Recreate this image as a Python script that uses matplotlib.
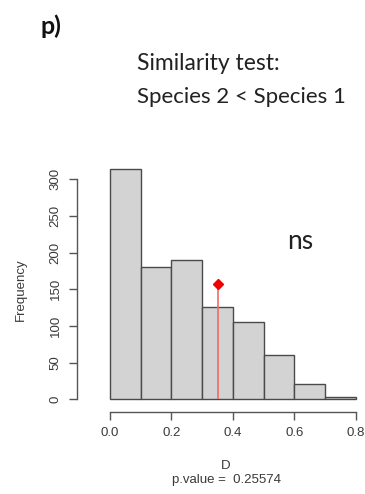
import matplotlib
matplotlib.use("Agg")
import matplotlib.pyplot as plt
import numpy as np

# Null distribution of the similarity statistic D (histogram counts per bin)
bin_edges = [0.0, 0.1, 0.2, 0.3, 0.4, 0.5, 0.6, 0.7, 0.8]
counts = [314, 180, 190, 126, 106, 60, 21, 3]

# Observed statistic and the height of its marker
observed_d = 0.352
marker_height = 157
p_value = 0.25574

x_ticks = [0.0, 0.2, 0.4, 0.6, 0.8]
y_ticks = [0, 50, 100, 150, 200, 250, 300]

axis_font = "Liberation Sans"
note_font = "Lato"
txt_grey = "#3a3a3a"

fig = plt.figure(figsize=(3.65, 4.94), dpi=100)
ax = fig.add_axes([0.211, 0.1666, 0.789, 0.515])

edges = np.array(bin_edges)
ax.bar(edges[:-1], counts, width=np.diff(edges), align="edge",
       color="#d3d3d3", edgecolor="#4a4a4a", linewidth=1.0, zorder=2)

ax.vlines(observed_d, 0, marker_height, color="#f26b6b", linewidth=1.2, zorder=3)
ax.plot([observed_d], [marker_height], marker="D", markersize=5.5,
        color="#f20000", linestyle="none", zorder=4)

ax.set_xlim(-0.1073, 0.83)
ax.set_ylim(-16.9, 330)

for side in ("top", "right"):
    ax.spines[side].set_visible(False)
ax.spines["left"].set_bounds(0, 300)
ax.spines["bottom"].set_bounds(0, 0.8)
for side in ("left", "bottom"):
    ax.spines[side].set_color("#555555")
    ax.spines[side].set_linewidth(1.0)

ax.set_xticks(x_ticks)
ax.set_xticklabels([f"{v:.1f}" for v in x_ticks], fontfamily=axis_font,
                   fontsize=9.5, color=txt_grey)
ax.set_yticks(y_ticks)
ax.set_yticklabels([str(v) for v in y_ticks], fontfamily=axis_font,
                   fontsize=9.5, color=txt_grey, rotation=90, va="center")
ax.tick_params(axis="both", length=6, width=1.0, color="#555555", pad=5)

fig.text(0.057, 0.413, "Frequency", rotation=90, ha="center", va="center",
         fontfamily=axis_font, fontsize=9.5, color=txt_grey)
fig.text(0.617, 0.057, "D", ha="center", va="center",
         fontfamily=axis_font, fontsize=9.5, color=txt_grey)
fig.text(0.620, 0.028, f"p.value =  {p_value}", ha="center", va="center",
         fontfamily=axis_font, fontsize=9.5, color=txt_grey)

fig.text(0.823, 0.511, "ns", ha="center", va="center",
         fontfamily=note_font, fontsize=19, color="#222222")

fig.text(0.11, 0.947, "p)", ha="left", va="center",
         fontfamily=note_font, fontsize=18, fontweight="bold", color="#111111")
fig.text(0.375, 0.872, "Similarity test:", ha="left", va="center",
         fontfamily=note_font, fontsize=16.5, color="#222222")
fig.text(0.375, 0.804, "Species 2 < Species 1", ha="left", va="center",
         fontfamily=note_font, fontsize=16, color="#222222")

fig.savefig("out.png", dpi=100)
